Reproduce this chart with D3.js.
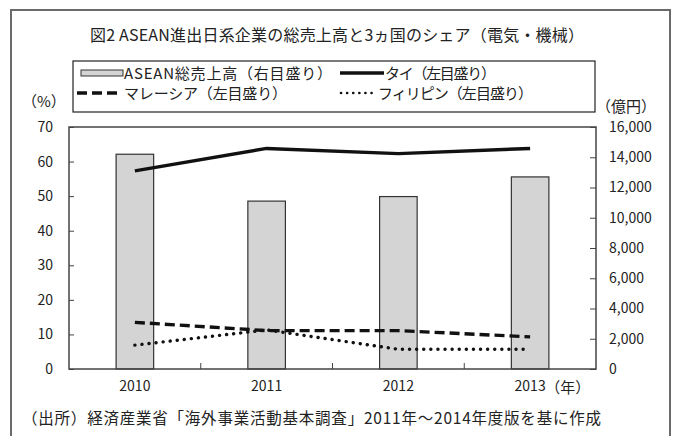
<!DOCTYPE html>
<html lang="ja">
<head>
<meta charset="utf-8">
<script src="https://cdn.jsdelivr.net/npm/d3@7"></script>
<style>
  html, body { margin: 0; padding: 0; background: #fff; }
  svg { display: block; }
  text { font-family: "Noto Sans CJK JP", "Noto Sans", sans-serif; fill: #222; }
</style>
</head>
<body>
<svg id="chart" width="676" height="436"></svg>
<script>
// 年次カテゴリ
const years = ["2010", "2011", "2012", "2013"];
// ASEAN総売上高（億円、右目盛り）
const aseanSales = [14200, 11100, 11400, 12700];
// 各国シェア（%、左目盛り）
const thaiShare = [57.3, 63.8, 62.3, 63.8];
const malaysiaShare = [13.5, 11.1, 11.1, 9.3];
const philippinesShare = [6.9, 11.3, 5.7, 5.7];
// 目盛り
const leftTicks = [0, 10, 20, 30, 40, 50, 60, 70];
const rightTicks = [0, 2000, 4000, 6000, 8000, 10000, 12000, 14000, 16000];

const svg = d3.select("#chart");

// 外枠
svg.append("rect")
  .attr("x", 11).attr("y", 10).attr("width", 659).attr("height", 440)
  .attr("fill", "none").attr("stroke", "#6a6a6a").attr("stroke-width", 2);

// タイトル
svg.append("text")
  .attr("x", 90).attr("y", 41)
  .attr("font-size", 16)
  .attr("textLength", 494).attr("lengthAdjust", "spacing")
  .text("図2  ASEAN進出日系企業の総売上高と3ヵ国のシェア（電気・機械）");

const plot = { left: 69, right: 596, top: 127, bottom: 369 };

const x = d3.scaleBand().domain(years).range([plot.left, plot.right]).padding(0);
const yL = d3.scaleLinear().domain([0, 70]).range([plot.bottom, plot.top]);
const yR = d3.scaleLinear().domain([0, 16000]).range([plot.bottom, plot.top]);
const bw = x.bandwidth();
const barW = bw * 0.285;
const cx = d => x(d) + bw / 2;

// 棒（ASEAN総売上高）
svg.append("g").selectAll("rect")
  .data(years.map((y, i) => ({ year: y, v: aseanSales[i] })))
  .join("rect")
  .attr("x", d => cx(d.year) - barW / 2)
  .attr("y", d => yR(d.v))
  .attr("width", barW)
  .attr("height", d => yR(0) - yR(d.v))
  .attr("fill", "#d4d4d4")
  .attr("stroke", "#333")
  .attr("stroke-width", 1.2);

// プロット枠
svg.append("rect")
  .attr("x", plot.left).attr("y", plot.top)
  .attr("width", plot.right - plot.left).attr("height", plot.bottom - plot.top)
  .attr("fill", "none").attr("stroke", "#444").attr("stroke-width", 1.5);

// 左軸
const gL = svg.append("g")
  .attr("transform", `translate(${plot.left},0)`)
  .call(d3.axisLeft(yL).tickValues(leftTicks).tickSize(-5).tickPadding(16));
gL.select(".domain").remove();
gL.selectAll(".tick line").attr("stroke", "#444");
gL.selectAll("text").attr("font-size", 14).attr("fill", "#222")
  .attr("font-family", "'Noto Sans CJK JP', sans-serif");

// 右軸
const gR = svg.append("g")
  .attr("transform", `translate(${plot.right},0)`)
  .call(d3.axisRight(yR).tickValues(rightTicks).tickSize(-6).tickPadding(13).tickFormat(d3.format(",")));
gR.select(".domain").remove();
gR.selectAll(".tick line").attr("stroke", "#444");
gR.selectAll("text").attr("font-size", 14).attr("fill", "#222")
  .attr("font-family", "'Noto Sans CJK JP', sans-serif");

// 下軸（ラベル）
const gB = svg.append("g")
  .attr("transform", `translate(0,${plot.bottom})`)
  .call(d3.axisBottom(x).tickSize(0).tickPadding(12));
gB.select(".domain").remove();
gB.selectAll("text").attr("font-size", 14).attr("fill", "#222")
  .attr("font-family", "'Noto Sans CJK JP', sans-serif");
// カテゴリ境界の目盛り
svg.append("g").selectAll("line")
  .data(years.slice(1))
  .join("line")
  .attr("x1", d => x(d)).attr("x2", d => x(d))
  .attr("y1", plot.bottom).attr("y2", plot.bottom - 6)
  .attr("stroke", "#444");
svg.append("text")
  .attr("x", cx(years[3]) + 15).attr("y", 393)
  .attr("font-size", 15)
  .text("（年）");

// 単位
svg.append("text").attr("x", 22).attr("y", 107).attr("font-size", 15).text("（%）");
svg.append("text").attr("x", 596).attr("y", 112).attr("font-size", 15).text("（億円）");

// 折れ線
const lineL = d3.line().x(d => cx(d.year)).y(d => yL(d.v));
const series = [
  { vals: thaiShare, dash: null, cap: "butt", w: 3.4 },
  { vals: malaysiaShare, dash: "10,5", cap: "butt", w: 3.4 },
  { vals: philippinesShare, dash: "0.1,7", cap: "round", w: 3.4 }
];
series.forEach(s => {
  svg.append("path")
    .datum(years.map((y, i) => ({ year: y, v: s.vals[i] })))
    .attr("d", lineL)
    .attr("fill", "none")
    .attr("stroke", "#111")
    .attr("stroke-width", s.w)
    .attr("stroke-linecap", s.cap)
    .attr("stroke-dasharray", s.dash);
});

// 凡例
const lg = svg.append("g");
lg.append("rect")
  .attr("x", 73).attr("y", 61).attr("width", 522).attr("height", 51)
  .attr("fill", "#fff").attr("stroke", "#222").attr("stroke-width", 1.2);
lg.append("rect")
  .attr("x", 81).attr("y", 70).attr("width", 42).attr("height", 6)
  .attr("fill", "#d4d4d4").attr("stroke", "#333").attr("stroke-width", 1);
lg.append("text").attr("x", 124).attr("y", 79).attr("font-size", 15)
  .attr("textLength", 208).attr("lengthAdjust", "spacing")
  .text("ASEAN総売上高（右目盛り）");
lg.append("line")
  .attr("x1", 340).attr("x2", 384).attr("y1", 73).attr("y2", 73)
  .attr("stroke", "#111").attr("stroke-width", 3.4);
lg.append("text").attr("x", 385).attr("y", 79).attr("font-size", 15)
  .attr("textLength", 111).attr("lengthAdjust", "spacing")
  .text("タイ（左目盛り）");
lg.append("line")
  .attr("x1", 77).attr("x2", 117).attr("y1", 93).attr("y2", 93)
  .attr("stroke", "#111").attr("stroke-width", 3.4).attr("stroke-dasharray", "10,5");
lg.append("text").attr("x", 124).attr("y", 99).attr("font-size", 15)
  .attr("textLength", 163).attr("lengthAdjust", "spacing")
  .text("マレーシア（左目盛り）");
lg.append("line")
  .attr("x1", 341).attr("x2", 372).attr("y1", 93).attr("y2", 93)
  .attr("stroke", "#111").attr("stroke-width", 2.6)
  .attr("stroke-linecap", "round").attr("stroke-dasharray", "0.1,6");
lg.append("text").attr("x", 378).attr("y", 99).attr("font-size", 15)
  .attr("textLength", 155).attr("lengthAdjust", "spacing")
  .text("フィリピン（左目盛り）");

// 出所
svg.append("text")
  .attr("x", 22).attr("y", 424)
  .attr("font-size", 15.5)
  .attr("textLength", 579).attr("lengthAdjust", "spacing")
  .text("（出所）経済産業省「海外事業活動基本調査」2011年～2014年度版を基に作成");
</script>
</body>
</html>
